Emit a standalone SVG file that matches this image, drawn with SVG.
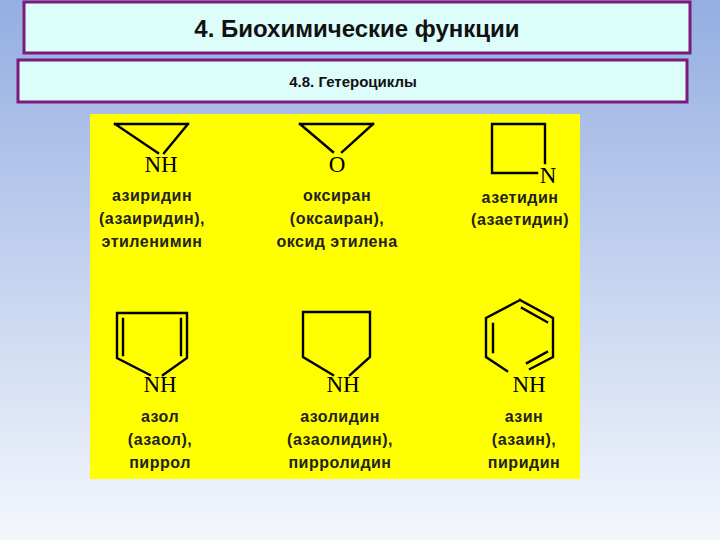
<svg xmlns="http://www.w3.org/2000/svg" width="720" height="540" viewBox="0 0 720 540">
<defs>
<linearGradient id="bg" x1="0" y1="0" x2="0" y2="1">
<stop offset="0" stop-color="#94aee2"/><stop offset="1" stop-color="#f4f7fc"/>
</linearGradient>
<style>
.box{fill:#ddfdfb;stroke:#7a1a7a;stroke-width:3}
.b{fill:none;stroke:#000;stroke-width:2.4;stroke-linecap:square}
.at{font-family:"Liberation Serif",serif;font-size:23px;fill:#000;text-anchor:middle}
.lb{font-family:"Liberation Sans",sans-serif;font-size:16px;font-weight:bold;fill:#222;text-anchor:middle;letter-spacing:0.5px}
</style>
</defs>
<rect width="720" height="540" fill="url(#bg)"/>
<g id="title"><rect class="box" x="24" y="2" width="666" height="51"/>
<text x="357" y="37" font-family="Liberation Sans,sans-serif" font-size="24" font-weight="bold" text-anchor="middle" fill="#111">4. Биохимические функции</text></g>
<g id="subtitle"><rect class="box" x="18" y="60" width="669" height="42"/>
<text x="353" y="87" font-family="Liberation Sans,sans-serif" font-size="15" font-weight="bold" text-anchor="middle" fill="#111">4.8. Гетероциклы</text></g>
<rect x="90" y="114" width="490" height="365" fill="#ffff00"/>
<g id="aziridine">
<path class="b" d="M115,124 H188 M115,124 L158,153 M188,124 L164,153"/>
<text class="at" x="161" y="172">NH</text>
<text class="lb" x="152" y="201">азиридин</text><text class="lb" x="152" y="224">(азаиридин),</text><text class="lb" x="152" y="247">этиленимин</text></g>
<g id="oxirane">
<path class="b" d="M300,124 H373 M300,124 L333,152 M373,124 L342,152"/>
<text class="at" x="337" y="172">O</text>
<text class="lb" x="337" y="201">оксиран</text><text class="lb" x="337" y="224">(оксаиран),</text><text class="lb" x="337" y="247">оксид этилена</text></g>
<g id="azetidine">
<path class="b" d="M492,124 H545 V163 M492,124 V173 H537"/>
<text class="at" x="548" y="183" font-size="21">N</text>
<text class="lb" x="520" y="203">азетидин</text><text class="lb" x="520" y="225">(азаетидин)</text></g>
<g id="pyrrole">
<path class="b" d="M117,313 H187 M117,313 V358 L150,375 M187,313 V358 L163,375 M123,319 V355 M181,319 V355"/>
<text class="at" x="160" y="392">NH</text>
<text class="lb" x="160" y="422">азол</text><text class="lb" x="160" y="445">(азаол),</text><text class="lb" x="160" y="468">пиррол</text></g>
<g id="pyrrolidine">
<path class="b" d="M303,312 H370 M303,312 V357 L333,375 M370,312 V357 L350,375"/>
<text class="at" x="343" y="392">NH</text>
<text class="lb" x="340" y="422">азолидин</text><text class="lb" x="340" y="445">(азаолидин),</text><text class="lb" x="340" y="468">пирролидин</text></g>
<g id="pyridine">
<path class="b" d="M520,300 L553,318 V357 L530,369 M520,300 L486,318 V357 L507,371 M522,308 L547,322 M493,324 V352 M547,352 L527,363"/>
<text class="at" x="529" y="392">NH</text>
<text class="lb" x="524" y="422">азин</text><text class="lb" x="524" y="445">(азаин),</text><text class="lb" x="524" y="468">пиридин</text></g>
</svg>
